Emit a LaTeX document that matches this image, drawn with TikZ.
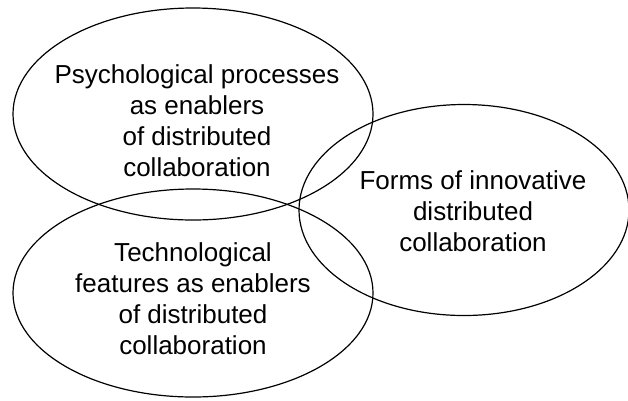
\documentclass[tikz,border=0pt]{standalone}
\usepackage{fontspec}
\setmainfont{Liberation Sans}
\usetikzlibrary{shapes.geometric}
\begin{document}
\begin{tikzpicture}[x=1pt,y=-1pt,
  ring/.style={ellipse, draw=black, line width=1.2pt, inner sep=0pt},
  caption/.style={align=center, font=\fontsize{26}{31}\selectfont, inner sep=0pt}]
  \useasboundingbox (0,0) rectangle (628,400);
  % three overlapping areas
  \node[ring, minimum width=360pt, minimum height=212pt] (psych) at (193,114) {};
  \node[ring, minimum width=360pt, minimum height=208pt] (tech) at (193,293) {};
  \node[ring, minimum width=330pt, minimum height=211pt] (forms) at (464,210) {};
  % texts
  \node[caption] (psychtext) at (197,120.5) {Psychological processes\\as enablers\\of distributed\\collaboration};
  \node[caption] (techtext) at (193,299) {Technological\\features as enablers\\of distributed\\collaboration};
  \node[caption] (formstext) at (473,211) {Forms of innovative\\distributed\\collaboration};
\end{tikzpicture}
\end{document}
